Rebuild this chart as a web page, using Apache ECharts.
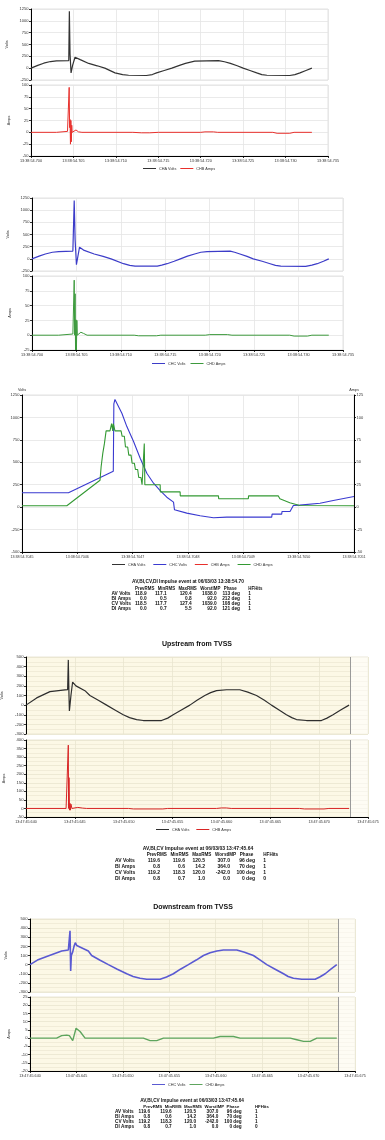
<!DOCTYPE html>
<html><head><meta charset="utf-8">
<script src="https://cdn.jsdelivr.net/npm/echarts@6/dist/echarts.min.js"></script>
<style>html,body{margin:0;padding:0;background:#fff}#c{width:385px;height:1140px}</style>
</head><body><div id="c"></div>
<script>
// ---------- DATA (time in ms for panels 1,2,4,5; in 0.1 ms for panel 3) ----------
const p12XTicks = ['13:38:54.700','13:38:54.705','13:38:54.710','13:38:54.715','13:38:54.720','13:38:54.725','13:38:54.730','13:38:54.735'];
const p3XTicks  = ['13:38:54.7045','13:38:54.7046','13:38:54.7047','13:38:54.7048','13:38:54.7049','13:38:54.7050','13:38:54.7051'];
const p45XTicks = ['13:47:45.640','13:47:45.645','13:47:45.650','13:47:45.655','13:47:45.660','13:47:45.665','13:47:45.670','13:47:45.675'];

const p1ChaVolts = [[700,0],[700.8,60],[701.5,105],[702.3,140],[703,155],[704.45,160],[704.52,1200],[704.6,300],[704.72,-100],[704.9,60],[705.19,230],[705.8,180],[706.8,100],[707.8,50],[708.7,0],[709.9,-100],[710.8,-135],[711.5,-150],[713.6,-155],[714.3,-135],[714.8,-100],[715.7,-50],[716.6,0],[717.5,60],[718.2,100],[719.3,150],[722.1,160],[722.8,135],[723.5,100],[724.3,50],[725.0,0],[725.8,-50],[726.6,-100],[727.2,-135],[727.8,-150],[730.5,-155],[731.1,-135],[731.7,-100],[732.4,-50],[733.1,0]];
const p1ChbAmps = [[700,0],[703,0],[704.3,2],[704.5,95],[704.55,10],[704.6,27],[704.65,-25],[704.7,25],[704.75,-20],[704.8,15],[704.85,0],[704.95,2],[705.3,5],[705.6,1],[706,0],[712,0],[713,-1],[714,-1],[715,0],[720,0],[720.5,1],[721.5,1],[722,0],[728.5,0],[729,-2],[730.5,-2],[731,0],[733.1,0]];

const p2ChcVolts = [[700,0],[700.8,55],[701.5,100],[702.3,135],[703,150],[704.6,160],[704.75,1200],[704.85,400],[705.0,-120],[705.35,240],[705.8,180],[707,100],[708,50],[708.9,0],[710.3,-100],[711,-135],[711.6,-150],[714.1,-150],[714.6,-130],[715.2,-100],[716,-50],[716.7,0],[717.5,55],[718.3,100],[719,135],[719.7,150],[722.3,160],[722.8,135],[723.4,100],[724.2,50],[724.9,0],[725.9,-50],[726.8,-100],[727.4,-135],[728,-150],[730.8,-155],[731.5,-130],[732.1,-100],[732.8,-50],[733.4,0]];
const p2ChdAmps = [[700,0],[703,0],[704.6,2],[704.75,93],[704.8,0],[704.85,70],[704.9,-25],[704.95,26],[705.0,-25],[705.05,25],[705.1,0],[705.2,2],[705.5,5],[705.8,3],[706.2,0],[711.5,0],[712,-1],[714,-1],[714.5,0],[719.5,0],[720,1],[722,1],[722.5,0],[729,0],[729.5,-1.5],[731,-1.5],[731.5,0],[733.4,0]];

const p3ChaVolts = [];
const p3ChbAmps = [];
const p3ChcVolts = [[7045,160],[7045.84,160],[7046.65,400],[7046.66,1150],[7046.68,1200],[7046.71,1180],[7046.805,1046],[7046.895,898],[7047.016,731],[7047.136,545],[7047.256,378],[7047.377,267],[7047.497,185],[7047.617,111],[7047.738,56],[7047.756,-30],[7047.978,-67],[7048.219,-96],[7048.46,-119],[7048.7,-111],[7049.513,-111],[7049.52,-78],[7049.693,-78],[7049.7,-48],[7049.844,-48],[7049.904,18],[7050.02,22],[7050.385,44],[7050.626,74],[7051,119]];
const p3ChdAmps = [[7045,1.5],[7045.81,1.5],[7046.41,30],[7046.43,45],[7046.46,60],[7046.49,71],[7046.52,85],[7046.59,85],[7046.62,93],[7046.64,85],[7046.65,93],[7046.68,85],[7046.79,85],[7046.81,79],[7046.85,79],[7046.87,67],[7046.91,67],[7046.93,58],[7046.97,58],[7046.99,49],[7047.03,49],[7047.05,42],[7047.09,42],[7047.11,33],[7047.15,33],[7047.17,25],[7047.2,25],[7047.21,71],[7047.22,25],[7047.497,25],[7047.5,17],[7047.858,17],[7047.86,12.6],[7048.55,12.6],[7048.555,9.3],[7049.09,9.3],[7049.095,12.6],[7049.63,12.6],[7049.66,9.3],[7049.84,5],[7050.02,1.9],[7051,1.5]];

const p4ChaVolts = [[640,0],[641.09,75],[642.45,140],[643.99,158],[644.26,160],[644.33,470],[644.4,100],[644.44,-60],[644.6,100],[644.77,240],[645.11,200],[646.03,150],[646.54,100],[647.4,50],[648.25,0],[649.1,-50],[649.95,-100],[650.6,-130],[651.32,-150],[652,-160],[653.87,-160],[654.5,-135],[655.06,-100],[655.9,-50],[656.77,0],[657.5,50],[658.3,100],[658.9,130],[659.5,150],[660.52,160],[661.88,160],[662.7,135],[663.59,100],[664.4,50],[665.12,0],[665.9,-50],[666.65,-100],[667.2,-130],[667.68,-150],[668.7,-160],[670.23,-160],[670.8,-135],[671.42,-100],[672.2,-50],[673.06,0]];
const p4ChbAmps = [[640,0],[644.1,0],[644.25,2],[644.33,370],[644.36,0],[644.4,180],[644.45,-10],[644.5,30],[644.55,-10],[644.6,25],[644.7,0],[644.9,8],[645.3,6],[645.8,2],[646.2,0],[650.5,0],[651,-3],[654,-3],[654.5,0],[659.5,0],[660,3],[660.5,3],[661,0],[668,0],[668.5,-3],[670.5,-3],[671,0],[673.06,0]];

const p5ChcVolts = [[640,0],[640.8,50],[641.8,90],[643.41,150],[644.13,160],[644.31,370],[644.38,-70],[644.45,100],[644.6,140],[644.74,200],[644.88,240],[645.03,210],[646.28,150],[646.64,100],[647.5,50],[648.44,0],[649.4,-50],[650.42,-100],[651.1,-130],[651.85,-150],[652.57,-160],[654.01,-160],[654.7,-135],[655.44,-100],[656.2,-50],[657.06,0],[657.9,50],[658.68,100],[659.4,130],[660.12,150],[660.83,160],[662.27,160],[663.1,135],[664.06,100],[664.8,50],[665.5,0],[666.4,-50],[667.3,-100],[667.8,-130],[668.37,-150],[669.27,-160],[670.71,-160],[671.2,-135],[671.79,-100],[672.4,-50],[673.04,0]];
const p5ChdAmps = [[640,0],[642.87,0],[643.41,1.5],[643.95,1.8],[644.24,1.5],[644.6,-1.5],[644.96,6],[645.39,4],[645.93,0],[652.21,0],[652.93,-1.5],[653.65,-1.5],[654.37,0],[659.75,0],[660.47,1],[661.91,1],[662.63,0],[668.02,0],[668.74,-1],[669.46,-2],[670.17,-2],[670.89,0],[673.04,0]];

const p45RecordEnd = 673.2;

const tableHeader = ['PrevRMS','MinRMS','MaxRMS','WorstIMP','Phase','HFHits'];
const t1Title = 'AV,BI,CV,DI Impulse event at 06/03/03 13:38:54.70';
const t1Rows = [
  ['AV Volts','118.9','117.1','120.4','1038.0','113 deg','1'],
  ['BI Amps','0.0','0.5','0.8','92.0','212 deg','1'],
  ['CV Volts','118.5','117.7','127.4','1039.0','108 deg','1'],
  ['DI Amps','0.0','0.7','5.5','92.0','121 deg','1']];
const t2Title = 'AV,BI,CV Impulse event at 06/03/03 13:47:45.64';
const t2Rows = [
  ['AV Volts','119.6','119.6','120.5','307.0','96 deg','1'],
  ['BI Amps','0.8','0.6','14.2','364.0','70 deg','1'],
  ['CV Volts','119.2','118.3','120.0','-242.0','100 deg','1'],
  ['DI Amps','0.8','0.7','1.0','0.0','0 deg','0']];
const t3Title = 'AV,BI,CV Impulse event at 06/03/03 13:47:45.64';
const t3Rows = t2Rows;

const panelTitles = ['Upstream from TVSS','Downstream from TVSS'];

// ---------- RENDER ----------
const FONT = '"Liberation Sans", Arial, sans-serif';
const chart = echarts.init(document.getElementById('c'), null, {width:385, height:1140, renderer:'canvas'});

function grid(left, top, width, height, bg, border) {
  return {left, top, width, height, containLabel:false, outerBoundsMode:'none', show:true,
    backgroundColor: bg || 'transparent', borderColor: border || '#dcdcdc', borderWidth: 0.8};
}
function xAx(gi, min, max, interval, ticks, showLabel, splitColor, fs) {
  return {type:'value', gridIndex:gi, min, max, interval,
    axisLine:{show:showLabel, onZero:false, lineStyle:{color:'#000', width:1}},
    axisTick:{show:showLabel, length:2, lineStyle:{color:'#000', width:0.8}},
    axisLabel:{show:showLabel, fontSize:fs||3.8, margin:2.5, color:'#333', fontFamily:FONT,
      showMinLabel:true, showMaxLabel:true, hideOverlap:false,
      formatter: v => ticks[Math.round((v-min)/interval)] || ''},
    splitLine:{show:true, lineStyle:{color:splitColor, width:0.8}}};
}
function yAx(gi, min, max, interval, name, o) {
  o = o || {};
  const ax = {type:'value', gridIndex:gi, min, max, interval, position:o.pos||'left',
    name, nameLocation:o.nameLoc||'middle', nameGap:o.nameGap||15, nameRotate:o.nameLoc==='end'?0:90,
    nameTextStyle:{fontSize:o.nfs||3.8, color:'#333', fontFamily:FONT},
    axisLine:{show:true, onZero:false, lineStyle:{color:'#000', width:1}},
    axisTick:{show:true, length:2, lineStyle:{color:'#000', width:0.8}},
    axisLabel:{fontSize:o.fs||4, margin:2.5, color:'#333', fontFamily:FONT, showMinLabel:true, showMaxLabel:true,
      formatter: v => String(v)},
    splitLine:{show:true, lineStyle:{color:o.split||'#e4e4e4', width:0.8}}};
  if (o.minor) { ax.minorTick = {show:false, splitNumber:2}; ax.minorSplitLine = {show:true, lineStyle:{color:o.split, width:0.6}}; }
  return ax;
}
function line(name, data, xi, yi, color, width, extra) {
  return Object.assign({type:'line', name, data, xAxisIndex:xi, yAxisIndex:yi, symbol:'none', showSymbol:false,
    lineStyle:{color, width}, itemStyle:{color}, silent:true, animation:false, z:3}, extra||{});
}
const tailArea = {silent:true, itemStyle:{color:'rgba(255,255,255,0.55)'}, data:[[{xAxis:p45RecordEnd},{xAxis:675}]]};
const endLine = {silent:true, symbol:'none', label:{show:false}, lineStyle:{color:'#9a9a9a', width:1, type:'solid'}, data:[{xAxis:p45RecordEnd}]};

const IV = '#fcf8e6', IVS = '#e9e4cf';

const grids = [
  grid(31, 9, 297, 71), grid(31, 85, 297, 71),
  grid(32, 198, 311, 73), grid(32, 276, 311, 74),
  grid(22, 395, 332, 157),
  grid(26, 657, 342, 77, IV, '#e4e0cc'), grid(26, 740, 342, 77, IV, '#e4e0cc'),
  grid(30, 919, 325, 73, IV, '#e4e0cc'), grid(30, 997, 325, 74, IV, '#e4e0cc')
];
const xAxes = [
  xAx(0, 700, 735, 5, p12XTicks, false, '#e4e4e4'), xAx(1, 700, 735, 5, p12XTicks, true, '#e4e4e4'),
  xAx(2, 700, 735, 5, p12XTicks, false, '#e4e4e4'), xAx(3, 700, 735, 5, p12XTicks, true, '#e4e4e4'),
  xAx(4, 7045, 7051, 1, p3XTicks, true, '#e4e4e4', 3.6),
  xAx(5, 640, 675, 5, p45XTicks, false, IVS), xAx(6, 640, 675, 5, p45XTicks, true, IVS, 3.7),
  xAx(7, 640, 675, 5, p45XTicks, false, IVS), xAx(8, 640, 675, 5, p45XTicks, true, IVS, 3.7)
];
const yAxes = [
  yAx(0, -250, 1250, 250, 'Volts', {nameGap:18}),
  yAx(1, -50, 100, 25, 'Amps', {nameGap:18}),
  yAx(2, -250, 1250, 250, 'Volts', {nameGap:16}),
  yAx(3, -25, 100, 25, 'Amps', {nameGap:16}),
  yAx(4, -500, 1250, 250, 'Volts', {nameLoc:'end', nameGap:3}),
  yAx(4, -50, 125, 25, 'Amps', {nameLoc:'end', nameGap:3, pos:'right'}),
  yAx(5, -300, 500, 100, 'Volts', {nameGap:14, split:IVS, minor:true, fs:4.2}),
  yAx(6, -50, 400, 50, 'Amps', {nameGap:14, split:IVS, minor:true, fs:4.2}),
  yAx(7, -300, 500, 100, 'Volts', {nameGap:16, split:IVS, minor:true, fs:4.2}),
  yAx(8, -20, 25, 5, 'Amps', {nameGap:16, split:IVS, minor:true, fs:4.2})
];
yAxes[5].splitLine.show = false;

const series = [
  line('CHA Volts#1', p1ChaVolts, 0, 0, '#333333', 1.2),
  line('CHB Amps#1', p1ChbAmps, 1, 1, '#e8302c', 1),
  line('CHC Volts#2', p2ChcVolts, 2, 2, '#3c3cc8', 1.2),
  line('CHD Amps#2', p2ChdAmps, 3, 3, '#3d9a3d', 1),
  line('CHA Volts#3', p3ChaVolts, 4, 4, '#333333', 1),
  line('CHC Volts#3', p3ChcVolts, 4, 4, '#3a3ad0', 1.1),
  line('CHB Amps#3', p3ChbAmps, 4, 5, '#e8302c', 1),
  line('CHD Amps#3', p3ChdAmps, 4, 5, '#339933', 1.1),
  line('CHA Volts#4', p4ChaVolts, 5, 6, '#2e2e2e', 1.2, {markArea:tailArea, markLine:endLine}),
  line('CHB Amps#4', p4ChbAmps, 6, 7, '#d82424', 1, {markArea:tailArea, markLine:endLine}),
  line('CHC Volts#5', p5ChcVolts, 7, 8, '#5a5ad2', 1.6, {markArea:tailArea, markLine:endLine}),
  line('CHD Amps#5', p5ChdAmps, 8, 9, '#5ea55e', 1.4, {markArea:tailArea, markLine:endLine})
];

function legend(names, left, top, gap) {
  return {data:names, left, top, orient:'horizontal', icon:'rect', itemWidth:13, itemHeight:1, itemGap:gap,
    padding:0, selectedMode:false, textStyle:{fontSize:3.8, color:'#333', fontFamily:FONT, padding:[0,0,0,-2]},
    formatter: n => n.split('#')[0]};
}
const legends = [
  legend(['CHA Volts#1','CHB Amps#1'], 143, 166.5, 4),
  legend(['CHC Volts#2','CHD Amps#2'], 152, 361.5, 5),
  legend(['CHA Volts#3','CHC Volts#3','CHB Amps#3','CHD Amps#3'], 112, 562.5, 8),
  legend(['CHA Volts#4','CHB Amps#4'], 156, 827.5, 7),
  legend(['CHC Volts#5','CHD Amps#5'], 152, 1082.5, 4)
];

// tables
const graphics = [];
const mctx = document.createElement('canvas').getContext('2d');
function fontOf(size) { return 'bold ' + size + 'px "Liberation Sans", Arial, sans-serif'; }
function tw(text, size) { mctx.font = fontOf(size); return mctx.measureText(text).width; }
function txt(x, y, text, size, align) {
  graphics.push({type:'text', x, y, silent:true, style:{text, fill:'#111', align:align||'left', verticalAlign:'middle',
    font:fontOf(size)}});
}
function table(title, rows, L) {
  txt(L.titleX, L.titleY, title, L.fs, 'center');
  // headers laid out one after another between headStart and phaseEnd, HFHits at its own x
  const hfs = L.fs * 0.92;
  const first5 = tableHeader.slice(0, 5);
  const widths = first5.map(h => tw(h, hfs));
  const gap = Math.max(0.8, (L.phaseEnd - L.headStart - widths.reduce((a, b) => a + b, 0)) / 4);
  let x = L.headStart;
  first5.forEach((h, i) => { txt(x, L.headerY, h, hfs); x += widths[i] + gap; });
  txt(L.hfX, L.headerY, tableHeader[5], hfs);
  rows.forEach((r, ri) => {
    txt(L.labelX, L.rowY[ri], r[0], L.fs);
    for (let c = 1; c <= 5; c++) txt(L.vr[c-1], L.rowY[ri], r[c], L.fs, 'right');
    txt(L.hfX, L.rowY[ri], r[6], L.fs);
  });
}
table(t1Title, t1Rows, {titleX:188, titleY:582, headerY:588.3, rowY:[593.8,598.8,604,608.8], labelX:111.5, fs:4.8,
  headStart:135, phaseEnd:236.7, hfX:248.3, vr:[146.7,166.7,191.7,216.7,240]});
table(t2Title, t2Rows, {titleX:198, titleY:848.3, headerY:855, rowY:[860.8,866.8,872.8,879], labelX:115, fs:5,
  headStart:146.7, phaseEnd:253.3, hfX:263.3, vr:[160,185,205,230,255]});
table(t3Title, t3Rows, {titleX:192, titleY:1101, headerY:1107, rowY:[1112,1116.8,1121.7,1126.7], labelX:115, fs:4.7,
  headStart:143.3, phaseEnd:239.3, hfX:255, vr:[150,171.7,196,218.3,241.7]});
graphics.push({type:'text', x:197, y:644, silent:true, style:{text:panelTitles[0], fill:'#111', align:'center', verticalAlign:'middle', font:'bold 7px "Liberation Sans", Arial, sans-serif'}});
graphics.push({type:'text', x:193, y:907, silent:true, style:{text:panelTitles[1], fill:'#111', align:'center', verticalAlign:'middle', font:'bold 7px "Liberation Sans", Arial, sans-serif'}});

chart.setOption({
  animation:false,
  backgroundColor:'#ffffff',
  textStyle:{fontFamily:FONT},
  grid:grids, xAxis:xAxes, yAxis:yAxes, series, legend:legends, graphic:graphics
});
</script>
</body></html>
